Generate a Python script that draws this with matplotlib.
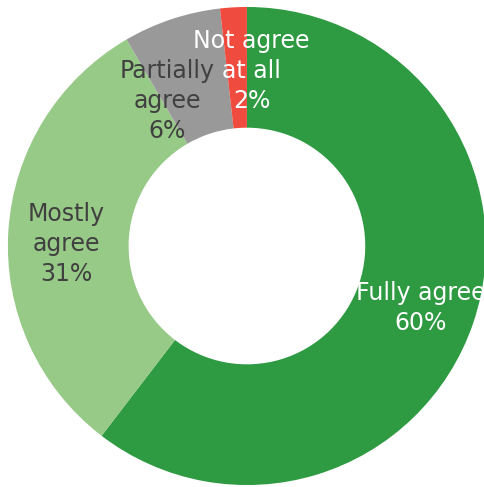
import matplotlib.pyplot as plt

CATEGORIES = ["Fully agree", "Mostly\nagree", "Partially\nagree", "Not agree\nat all"]
SHARES = [60.4, 31.2, 6.6, 1.8]          # wedge sizes read from the ring
SHOWN_PCT = [60, 31, 6, 2]               # printed percentages
COLORS = ["#2e9a41", "#97c987", "#999999", "#ef4b3f"]
TEXT_COLORS = ["white", "#404040", "#404040", "white"]
# label centres in axes fraction (x, y)
LABEL_POS = [(0.868, 0.367), (0.136, 0.499), (0.345, 0.793), (0.519, 0.854)]

fig = plt.figure(figsize=(4.85, 4.87), dpi=100)
ax = fig.add_axes([0, 0, 1, 1])

ax.pie(SHARES, colors=COLORS, startangle=90, counterclock=False, radius=1.0,
       wedgeprops=dict(width=0.505, linewidth=0))

for name, pct, col, (x, y) in zip(CATEGORIES, SHOWN_PCT, TEXT_COLORS, LABEL_POS):
    ax.text(x, y, f"{name}\n{pct}%", transform=ax.transAxes, ha="center",
            va="center", color=col, fontsize=17, linespacing=1.3,
            family=["DejaVu Sans"], clip_on=False)

ax.set_xlim(-1.033, 0.996)
ax.set_ylim(-1.008, 1.029)
ax.set_aspect("equal")
ax.axis("off")

fig.savefig("out.png", dpi=100, facecolor="white")
